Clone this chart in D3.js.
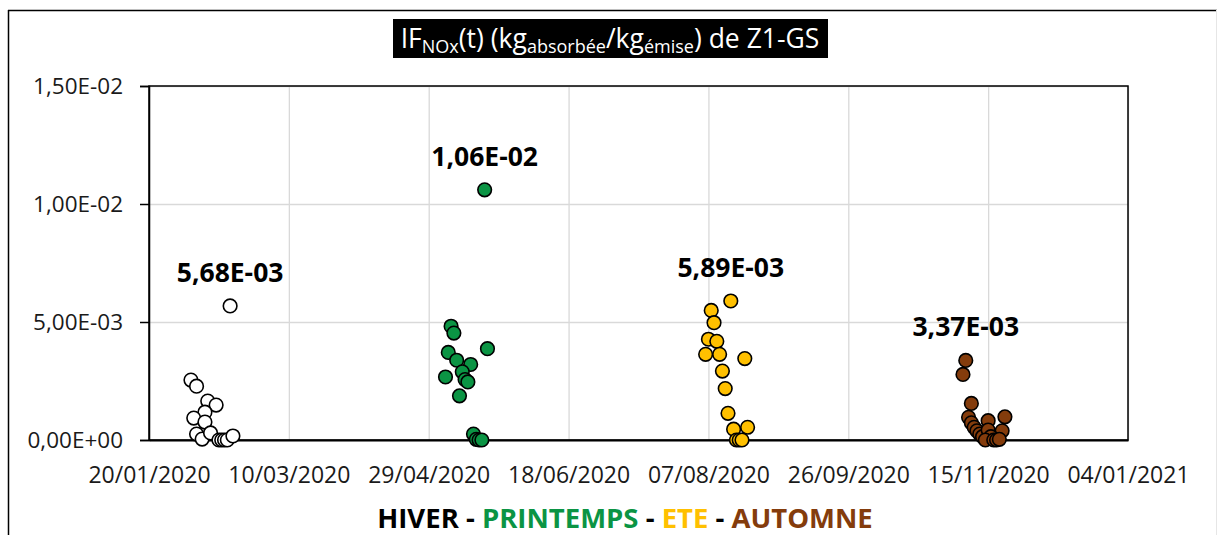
<!DOCTYPE html>
<html><head><meta charset="utf-8">
<script src="https://cdn.jsdelivr.net/npm/d3@7"></script>
<style>
html,body{margin:0;padding:0;background:#fff;}
svg text{font-family:"Open Sans","Noto Sans",sans-serif;}
</style></head>
<body><svg id="chart" width="1217" height="535"></svg>
<script>
// ---- data ----
const hiverDates = ["2020-02-04","2020-02-06","2020-02-10","2020-02-13","2020-02-09","2020-02-05","2020-02-09","2020-02-06","2020-02-08","2020-02-11","2020-02-14","2020-02-15","2020-02-16","2020-02-17","2020-02-19","2020-02-18"];
const hiverValues = [2.54e-3,2.28e-3,1.65e-3,1.48e-3,1.18e-3,0.93e-3,0.76e-3,0.25e-3,0.04e-3,0.30e-3,0,0,0,0,0.17e-3,5.68e-3];

const printempsDates = ["2020-05-07","2020-05-08","2020-05-20","2020-05-06","2020-05-09","2020-05-14","2020-05-05","2020-05-11","2020-05-12","2020-05-13","2020-05-10","2020-05-15","2020-05-16","2020-05-17","2020-05-18","2020-05-19"];
const printempsValues = [4.82e-3,4.53e-3,3.87e-3,3.71e-3,3.38e-3,3.20e-3,2.67e-3,2.89e-3,2.56e-3,2.46e-3,1.87e-3,0.25e-3,0.03e-3,0,0,1.06e-2];

const eteDates = ["2020-08-15","2020-08-08","2020-08-09","2020-08-07","2020-08-10","2020-08-06","2020-08-11","2020-08-20","2020-08-12","2020-08-13","2020-08-14","2020-08-16","2020-08-21","2020-08-17","2020-08-18","2020-08-19"];
const eteValues = [5.89e-3,5.49e-3,4.97e-3,4.27e-3,4.18e-3,3.63e-3,3.63e-3,3.45e-3,2.92e-3,2.18e-3,1.13e-3,0.46e-3,0.54e-3,0,0,0];

const automneDates = ["2020-11-07","2020-11-06","2020-11-09","2020-11-08","2020-11-09","2020-11-10","2020-11-15","2020-11-21","2020-11-11","2020-11-12","2020-11-13","2020-11-15","2020-11-20","2020-11-16","2020-11-14","2020-11-17","2020-11-18","2020-11-19"];
const automneValues = [3.37e-3,2.78e-3,1.55e-3,0.96e-3,0.73e-3,0.54e-3,0.82e-3,0.98e-3,0.39e-3,0.25e-3,0.14e-3,0.42e-3,0.39e-3,0.14e-3,0,0,0,0.03e-3];

const seasonNames = ["HIVER","PRINTEMPS","ETE","AUTOMNE"];
const xTickLabels = ["20/01/2020","10/03/2020","29/04/2020","18/06/2020","07/08/2020","26/09/2020","15/11/2020","04/01/2021"];
const yTickValues = [0, 0.005, 0.01, 0.015];

// ---- styles ----
const seasonFill = ["#ffffff","#0b9444","#ffc000","#843c0c"];
const legendColor = ["#000000","#0b9444","#ffc000","#843c0c"];

const parseDMY = d3.utcParse("%d/%m/%Y");
const parseISO = d3.utcParse("%Y-%m-%d");
const xTicks = xTickLabels.map(parseDMY);

const svg = d3.select("#chart");
const W = 1217, H = 535;
const plot = {left:149, right:1128, top:86, bottom:440};

const x = d3.scaleUtc().domain([xTicks[0], xTicks[xTicks.length-1]]).range([plot.left, plot.right]);
const y = d3.scaleLinear().domain([0, 0.015]).range([plot.bottom, plot.top]);

const fmt = v => {
  let s = v.toExponential(2);
  let [m, e] = s.split("e");
  let sign = e[0] === "-" ? "-" : "+";
  let ex = Math.abs(+e).toString().padStart(2,"0");
  return m.replace(".", ",") + "E" + sign + ex;
};

// outer frame
svg.append("line").attr("x1",8.5).attr("x2",8.5).attr("y1",10).attr("y2",H).attr("stroke","#000").attr("stroke-width",1.5);
svg.append("line").attr("x1",8).attr("x2",W).attr("y1",10.5).attr("y2",10.5).attr("stroke","#000").attr("stroke-width",1.5);
svg.append("line").attr("x1",1216.5).attr("x2",1216.5).attr("y1",10).attr("y2",H).attr("stroke","#e6e6e6").attr("stroke-width",1);

// gridlines
const g = svg.append("g");
g.append("g").attr("transform",`translate(0,${plot.bottom})`)
  .call(d3.axisBottom(x).tickValues(xTicks).tickSize(-(plot.bottom-plot.top)).tickFormat(""))
  .call(a=>a.select(".domain").remove())
  .call(a=>a.selectAll("line").attr("stroke","#d9d9d9").attr("stroke-width",1.3));
g.append("g").attr("transform",`translate(${plot.left},0)`)
  .call(d3.axisLeft(y).tickValues(yTickValues).tickSize(-(plot.right-plot.left)).tickFormat(""))
  .call(a=>a.select(".domain").remove())
  .call(a=>a.selectAll("line").attr("stroke","#d9d9d9").attr("stroke-width",1.3));

// plot border
svg.append("rect").attr("x",plot.left).attr("y",plot.top).attr("width",plot.right-plot.left).attr("height",plot.bottom-plot.top)
  .attr("fill","none").attr("stroke","#000").attr("stroke-width",1.5);

// y axis
const yAx = svg.append("g").attr("transform",`translate(${plot.left},0)`)
  .call(d3.axisLeft(y).tickValues(yTickValues).tickSize(9).tickPadding(17).tickFormat(fmt));
yAx.select(".domain").attr("stroke","#000").attr("stroke-width",1.5);
yAx.selectAll(".tick line").attr("stroke","#000").attr("stroke-width",1.5);
yAx.selectAll("text").attr("font-size",22.5).attr("fill","#1a1a1a").attr("font-family","'Open Sans',sans-serif");

// x axis
const xAx = svg.append("g").attr("transform",`translate(0,${plot.bottom})`)
  .call(d3.axisBottom(x).tickValues(xTicks).tickSize(0).tickPadding(27).tickFormat((d,i)=>xTickLabels[i]));
xAx.select(".domain").attr("stroke","#000").attr("stroke-width",2);
xAx.selectAll("text").attr("font-size",23).attr("fill","#1a1a1a").attr("font-family","'Open Sans',sans-serif");

// points
const seasons = [
  hiverDates.map((d,i)=>({date:parseISO(d), v:hiverValues[i]})),
  printempsDates.map((d,i)=>({date:parseISO(d), v:printempsValues[i]})),
  eteDates.map((d,i)=>({date:parseISO(d), v:eteValues[i]})),
  automneDates.map((d,i)=>({date:parseISO(d), v:automneValues[i]}))
];
seasons.forEach((pts, si) => {
  svg.append("g").selectAll("circle").data(pts).join("circle")
    .attr("cx", d=>x(d.date)).attr("cy", d=>y(d.v)).attr("r",6.8)
    .attr("fill", seasonFill[si]).attr("stroke","#000").attr("stroke-width",1.6);
  const mx = pts.reduce((a,b)=> b.v>a.v?b:a);
  svg.append("text").attr("x", x(mx.date)).attr("y", y(mx.v)-24)
    .attr("text-anchor","middle").attr("font-size",26.5).attr("font-weight","bold").attr("fill","#000")
    .text(fmt(mx.v));
});

// title
svg.append("rect").attr("x",393).attr("y",19).attr("width",435).attr("height",39).attr("fill","#000");
const t = svg.append("text").attr("x",610).attr("y",48).attr("text-anchor","middle").attr("fill","#fff").attr("font-size",26.5);
t.append("tspan").text("IF");
t.append("tspan").attr("font-size",18).attr("dy",5).text("NOx");
t.append("tspan").attr("dy",-5).text("(t) (kg");
t.append("tspan").attr("font-size",18).attr("dy",5).text("absorbée");
t.append("tspan").attr("dy",-5).text("/kg");
t.append("tspan").attr("font-size",18).attr("dy",5).text("émise");
t.append("tspan").attr("dy",-5).text(") de Z1-GS");

// legend text
const lg = svg.append("text").attr("x",625).attr("y",528).attr("text-anchor","middle").attr("font-size",27.5).attr("font-weight","bold");
seasonNames.forEach((n,i)=>{
  lg.append("tspan").attr("fill",legendColor[i]).text(n);
  if(i<seasonNames.length-1) lg.append("tspan").attr("fill","#000").text(" - ");
});
</script></body></html>
